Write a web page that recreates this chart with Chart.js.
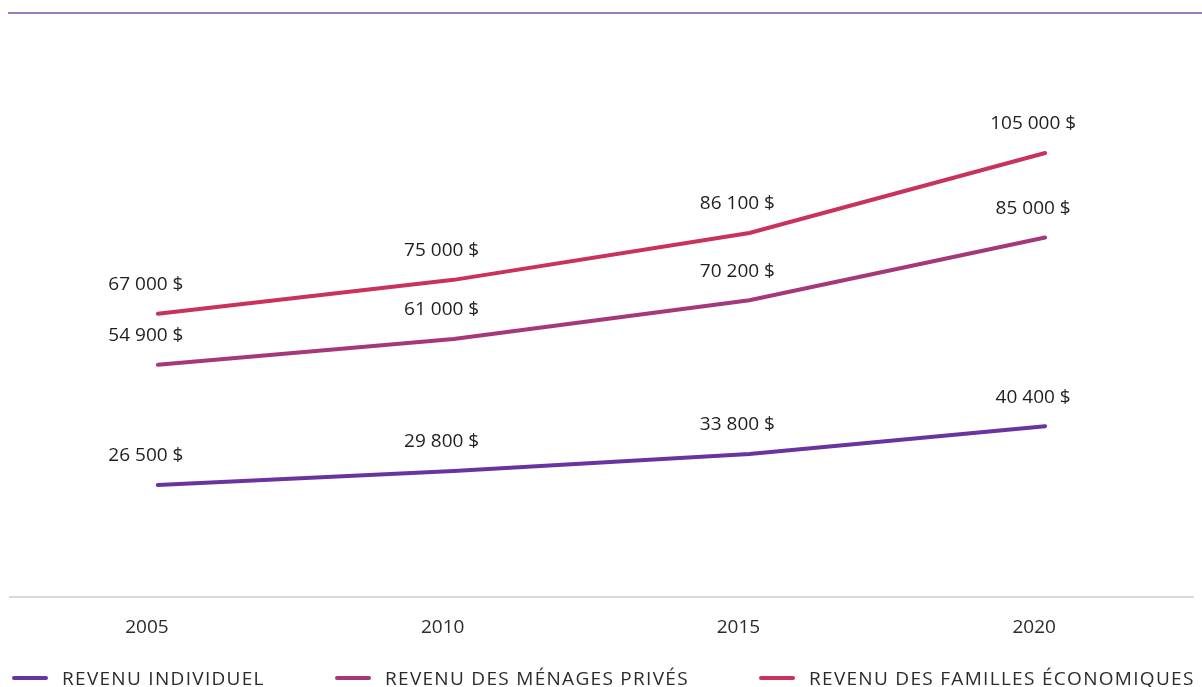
<!DOCTYPE html>
<html>
<head>
<meta charset="utf-8">
<script src="https://cdn.jsdelivr.net/npm/chart.js@4"></script>
<style>
  body { margin: 0; background: #fff; font-family: 'Open Sans', sans-serif; }
  #wrap { position: relative; width: 1202px; height: 687px; overflow: hidden; }
  #topline { position: absolute; left: 8px; right: 0; top: 12px; height: 2px; background: #9b7bbd; }
  #legend { position: absolute; left: 0; top: 666px; width: 1202px; height: 24px; }
  .item { position: absolute; top: 0; font-size: 19px; letter-spacing: 1.3px; color: #2b2b2b; white-space: nowrap; line-height: 24px; }
  .item span.mk { position: absolute; top: 10px; width: 36px; height: 4px; border-radius: 2px; }
  .item span.tx { position: absolute; left: 50px; top: 0; }
</style>
</head>
<body>
<div id="wrap">
  <canvas id="myChart" width="1202" height="687"></canvas>
  <div id="topline"></div>
  <div id="legend"></div>
</div>
<script>
const years = ['2005', '2010', '2015', '2020'];
const revenuIndividuel = [26500, 29800, 33800, 40400];
const revenuMenages = [54900, 61000, 70200, 85000];
const revenuFamilles = [67000, 75000, 86100, 105000];
const seriesNames = ['REVENU INDIVIDUEL', 'REVENU DES MÉNAGES PRIVÉS', 'REVENU DES FAMILLES ÉCONOMIQUES'];
const seriesColors = ['#6a33a0', '#a5377a', '#c9325a'];

const fmt = v => String(v).replace(/\B(?=(\d{3})+(?!\d))/g, ' ') + ' $';

// labels above the points, shifted like the tick labels
const valueLabels = {
    id: 'valueLabels',
    afterDatasetsDraw(chart) {
        const c = chart.ctx;
        c.save();
        c.font = "19px 'Open Sans', sans-serif";
        c.fillStyle = '#1f1f1f';
        c.textAlign = 'center';
        c.textBaseline = 'middle';
        chart.data.datasets.forEach((ds, i) => {
            chart.getDatasetMeta(i).data.forEach((pt, j) => {
                c.fillText(fmt(ds.data[j]), pt.x - 12, pt.y - 29);
            });
        });
        c.restore();
    }
};

const ctx = document.getElementById('myChart');
new Chart(ctx, {
    type: 'line',
    data: {
        labels: years,
        datasets: [revenuIndividuel, revenuMenages, revenuFamilles].map((d, i) => ({
            label: seriesNames[i],
            data: d,
            borderColor: seriesColors[i],
            backgroundColor: seriesColors[i],
            borderWidth: 4,
            borderCapStyle: 'round',
            pointRadius: 0,
            tension: 0
        }))
    },
    options: {
        responsive: false,
        animation: false,
        layout: { padding: { left: 10, right: 9, top: 5, bottom: 0 } },
        scales: {
            x: {
                offset: true,
                grid: { display: false },
                border: { display: true, color: '#d9d9d9', width: 2 },
                ticks: { labelOffset: -11, padding: 11, color: '#2b2b2b', font: { size: 19, family: "'Open Sans', sans-serif" } },
                afterFit(scale) { scale.height = 90; }
            },
            y: { display: false, min: 0, max: 140000 }
        },
        plugins: { legend: { display: false }, tooltip: { enabled: false } }
    },
    plugins: [valueLabels]
});

// legend
const legendPos = [12, 335, 759];
const lg = document.getElementById('legend');
seriesNames.forEach((n, i) => {
    const d = document.createElement('div');
    d.className = 'item';
    d.style.left = legendPos[i] + 'px';
    d.innerHTML = '<span class="mk" style="background:' + seriesColors[i] + '"></span><span class="tx">' + n + '</span>';
    lg.appendChild(d);
});
</script>
</body>
</html>
